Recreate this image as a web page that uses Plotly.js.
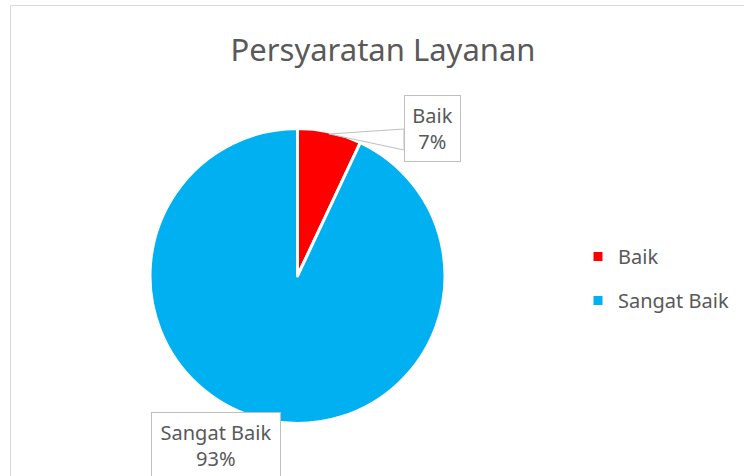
<!DOCTYPE html>
<html>
<head>
<meta charset="utf-8">
<script src="https://cdn.plot.ly/plotly-3.0.1.min.js"></script>
<style>html,body{margin:0;padding:0;background:#fff;}#chart{width:744px;height:476px;}</style>
</head>
<body>
<div id="chart"></div>
<script>
// ---- data ----
const categories = ["Baik", "Sangat Baik"];
const values = [7, 93];
const percentLabels = ["7%", "93%"];
const sliceColors = ["#FF0000", "#00B0F0"];
const chartTitle = "Persyaratan Layanan";

// ---- layout geometry (pixels) ----
const W = 744, H = 476;
const cx = 297.5, cy = 276, r = 147.5;
const px = x => x / W;
const py = y => 1 - y / H;
const FONT = "Noto Sans";
const GREY = "#595959";

// mid-angle anchor of a slice on the pie rim (clockwise from 12 o'clock)
const total = values.reduce((a, b) => a + b, 0);
function rimPoint(i) {
  let before = 0;
  for (let k = 0; k < i; k++) before += values[k];
  const ang = (before + values[i] / 2) / total * 2 * Math.PI;
  return [cx + (r - 2) * Math.sin(ang), cy - (r - 2) * Math.cos(ang)];
}

const pieTrace = {
  type: "pie",
  labels: categories,
  values: values,
  sort: false,
  direction: "clockwise",
  rotation: 0,
  textinfo: "none",
  hoverinfo: "label+percent",
  marker: { colors: sliceColors, line: { color: "#FFFFFF", width: 3 } },
  domain: { x: [px(cx - r), px(cx + r)], y: [py(cy + r), py(cy - r)] },
  showlegend: false
};

// legend entries (one per category, coloured like the slices)
const legendTraces = categories.map((c, i) => ({
  type: "scatter",
  mode: "markers",
  x: [null], y: [null],
  name: c,
  legendgroup: "g" + i,
  marker: { symbol: "square", size: 9, color: sliceColors[i] },
  showlegend: true,
  hoverinfo: "skip"
}));

// callout boxes (label + percent)
const boxes = [
  { cxp: 432.5, cyp: 128.5, w: 57, h: 67 },
  { cxp: 216, cyp: 445, w: 130, h: 67 }
];

const annotations = categories.map((c, i) => ({
  xref: "paper", yref: "paper",
  x: px(boxes[i].cxp), y: py(boxes[i].cyp),
  xanchor: "center", yanchor: "middle",
  text: c + "<br>" + percentLabels[i],
  showarrow: false,
  font: { family: FONT, size: 20, color: GREY },
  bgcolor: "#FFFFFF",
  bordercolor: "#BFBFBF",
  borderwidth: 1,
  borderpad: 0,
  width: boxes[i].w - 2,
  height: boxes[i].h - 2,
  align: "center", valign: "middle"
}));

// pointer wedge from the Baik box to its slice
const a0 = rimPoint(0);
const bx = boxes[0].cxp - boxes[0].w / 2;
const wedgePath = `M ${px(a0[0])} ${py(a0[1])} L ${px(bx)} ${py(129)} L ${px(bx)} ${py(150)} Z`;

const shapes = [
  { type: "rect", xref: "paper", yref: "paper", x0: px(10.5), y0: py(5.5), x1: px(760), y1: py(500),
    line: { color: "#D9D9D9", width: 1 }, fillcolor: "rgba(0,0,0,0)", layer: "below" },
  { type: "path", xref: "paper", yref: "paper", path: wedgePath,
    line: { color: "#BFBFBF", width: 1 }, fillcolor: "#FFFFFF", layer: "above" }
];

const layout = {
  width: W, height: H,
  margin: { l: 0, r: 0, t: 0, b: 0, pad: 0, autoexpand: false },
  paper_bgcolor: "#FFFFFF",
  plot_bgcolor: "rgba(0,0,0,0)",
  font: { family: FONT, color: GREY },
  title: {
    text: chartTitle,
    font: { family: FONT, size: 31, color: GREY },
    x: 383 / W, xanchor: "center",
    y: 1 - 50 / H, yanchor: "middle",
    xref: "paper", yref: "container"
  },
  xaxis: { visible: false, fixedrange: true },
  yaxis: { visible: false, fixedrange: true },
  showlegend: true,
  legend: {
    x: px(578), y: py(278.5), xanchor: "left", yanchor: "middle",
    font: { family: FONT, size: 20, color: GREY },
    bgcolor: "rgba(0,0,0,0)",
    traceorder: "grouped",
    tracegroupgap: 15,
    itemclick: false
  },
  shapes: shapes,
  annotations: annotations
};

Plotly.newPlot("chart", [pieTrace].concat(legendTraces), layout, { displayModeBar: false, staticPlot: true });
</script>
</body>
</html>
